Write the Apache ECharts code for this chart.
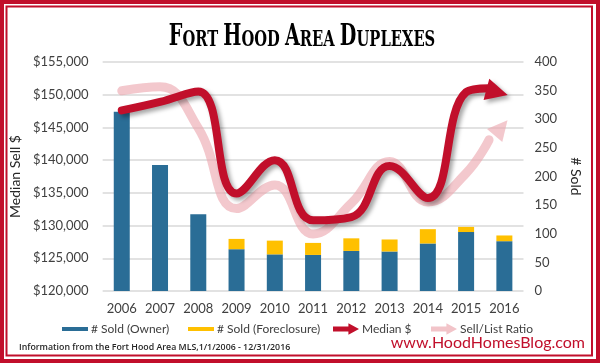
<!DOCTYPE html>
<html>
<head>
<meta charset="utf-8">
<script src="https://cdn.jsdelivr.net/npm/echarts@6/dist/echarts.min.js"></script>
<style>
html,body{margin:0;padding:0;background:#fff;}
#chart{width:600px;height:363px;}
</style>
</head>
<body>
<div id="chart"></div>
<script>
const years = ['2006','2007','2008','2009','2010','2011','2012','2013','2014','2015','2016'];
const soldOwner = [313,220,134,73,64,63,70,69,83,103,87];
const soldForeclosure = [0,0,0,18,24,21,22,21,25,9,10];
const medianPrice = [147600,148900,150500,134900,140000,130800,131300,139100,134200,150400,151000];
// Sell/List ratio trend, as drawn against the left (price) axis scale
const sellListRatio = [150600,151200,144900,132600,136200,128700,133400,139800,133600,138000,143100];
const priceTicks = {min:120000, max:155000, interval:5000};
const soldTicks = {min:0, max:400, interval:50};

const RED = '#C10F2B';
const PINK = 'rgba(236,166,174,0.62)';
const PINK_SOLID = '#F2C4C9';
const BLUE = '#2A6D96';
const YELLOW = '#FFC000';
const FONT = 'Lato';

const barIcon = 'path://M0,0L26,0M0,4L26,4L26,8L0,8ZM0,12L26,12';
const arrowIcon = 'path://M0,3.5L16,3.5L16,0L27,6L16,12L16,8.5L0,8.5Z';
const headPath = 'path://M0,0L22,11L0,22Z';

// lines are drawn on a hidden value x-axis aligned with the category centres;
// the final point is pulled back so the arrow head ends at the 2016 position
function lineData(arr, rot, size, offset) {
  const last = arr.length - 1;
  return arr.map((v, i) => i === last
    ? {value: [i - 0.4, v], symbol: headPath, symbolSize: size, symbolRotate: rot, symbolOffset: offset}
    : {value: [i, v]});
}

const chart = echarts.init(document.getElementById('chart'));
const legendBase = {
  top: 323, padding: 0, itemWidth: 26, itemHeight: 12, itemGap: 0,
  textStyle: {fontFamily: FONT, fontSize: 12, color: '#404040', padding:[0,0,0,-2]},
  selectedMode: false
};
const shadow = {shadowColor: 'rgba(0,0,0,0.35)', shadowBlur: 4, shadowOffsetX: 3, shadowOffsetY: 3};
chart.setOption({
  animation: false,
  grid: {left: 96, right: 76.5, top: 62, bottom: 72},
  legend: [
    Object.assign({}, legendBase, {left: 62, data: [{name:'# Sold (Owner)', icon: barIcon}]}),
    Object.assign({}, legendBase, {left: 188, data: [{name:'# Sold (Foreclosure)', icon: barIcon}]}),
    Object.assign({}, legendBase, {left: 333, data: [{name:'Median $', icon: arrowIcon}]}),
    Object.assign({}, legendBase, {left: 431, data: [{name:'Sell/List Ratio', icon: arrowIcon, itemStyle: {color: PINK_SOLID}}]})
  ],
  xAxis: [
    {
      type: 'category', data: years,
      axisLine: {show: false}, axisTick: {show: false},
      axisLabel: {interval: 0, fontFamily: FONT, fontSize: 13, color: '#404040', margin: 11}
    },
    {type: 'value', min: -0.5, max: years.length - 0.5, show: false}
  ],
  yAxis: [
    {
      type: 'value', min: priceTicks.min, max: priceTicks.max, interval: priceTicks.interval,
      name: 'Median Sell $', nameLocation: 'middle', nameGap: 74, nameRotate: 90,
      nameTextStyle: {fontFamily: FONT, fontSize: 14, color: '#262626'},
      axisLine: {show: false}, axisTick: {show: false},
      axisLabel: {fontFamily: FONT, fontSize: 13, color: '#404040', margin: 14,
        formatter: v => '$' + v.toLocaleString('en-US')},
      splitLine: {lineStyle: {color: '#D9D9D9', width: 1.5}}
    },
    {
      type: 'value', min: soldTicks.min, max: soldTicks.max, interval: soldTicks.interval,
      name: '# Sold', nameLocation: 'middle', nameGap: 38, nameRotate: -90,
      nameTextStyle: {fontFamily: FONT, fontSize: 14, color: '#262626'},
      axisLine: {show: false}, axisTick: {show: false},
      axisLabel: {fontFamily: FONT, fontSize: 13, color: '#404040', margin: 11},
      splitLine: {show: false}
    }
  ],
  series: [
    {name: '# Sold (Owner)', type: 'bar', stack: 'sold', yAxisIndex: 1, barWidth: 16,
      itemStyle: {color: BLUE}, data: soldOwner, z: 2},
    {name: '# Sold (Foreclosure)', type: 'bar', stack: 'sold', yAxisIndex: 1, barWidth: 16,
      itemStyle: {color: YELLOW}, data: soldForeclosure, z: 2},
    {name: 'Sell/List Ratio', type: 'line', xAxisIndex: 1, yAxisIndex: 0, smooth: 0.45,
      symbol: 'none', showSymbol: true, z: 3,
      lineStyle: {color: PINK, width: 9, cap: 'round'},
      itemStyle: {color: PINK},
      data: lineData(sellListRatio, 50, [20, 20], [12, -12])},
    {name: 'Median $', type: 'line', xAxisIndex: 1, yAxisIndex: 0, smooth: 0.45,
      symbol: 'none', showSymbol: true, z: 4,
      lineStyle: Object.assign({color: RED, width: 8, cap: 'round'}, shadow),
      itemStyle: Object.assign({color: RED}, shadow),
      data: lineData(medianPrice, -15, [22, 22], [8, 4])}
  ],
  graphic: [
    {type: 'rect', silent: true, shape: {x: 2, y: 2, width: 596, height: 359},
      style: {fill: 'none', stroke: RED, lineWidth: 4}},
    {type: 'rect', silent: true, shape: {x: 6.5, y: 6.5, width: 585.5, height: 349},
      style: {fill: 'none', stroke: RED, lineWidth: 2}},
    {type: 'text', x: 302, y: 37, scaleX: 0.64, silent: true,
      style: {
        text: '{b|F}{s|ORT }{b|H}{s|OOD }{b|A}{s|REA }{b|D}{s|UPLEXES}',
        align: 'center', verticalAlign: 'middle',
        rich: {
          b: {fontFamily: 'DejaVu Serif', fontWeight: 'bold', fontSize: 30, lineHeight: 30, color: '#383838', verticalAlign: 'bottom'},
          s: {fontFamily: 'DejaVu Serif', fontWeight: 'bold', fontSize: 23, lineHeight: 25, color: '#383838', verticalAlign: 'bottom'}
        }
      }},
    {type: 'text', x: 19, y: 347, silent: true,
      style: {text: 'Information from the Fort Hood Area MLS,1/1/2006 - 12/31/2016',
        fontFamily: 'Open Sans', fontSize: 8.8, fontWeight: 600, fill: '#262626', verticalAlign: 'middle'}},
    {type: 'text', x: 585, y: 342.5, silent: true,
      style: {text: 'www.HoodHomesBlog.com', fontFamily: FONT, fontSize: 16, fill: RED,
        align: 'right', verticalAlign: 'middle'}}
  ]
});
</script>
</body>
</html>
